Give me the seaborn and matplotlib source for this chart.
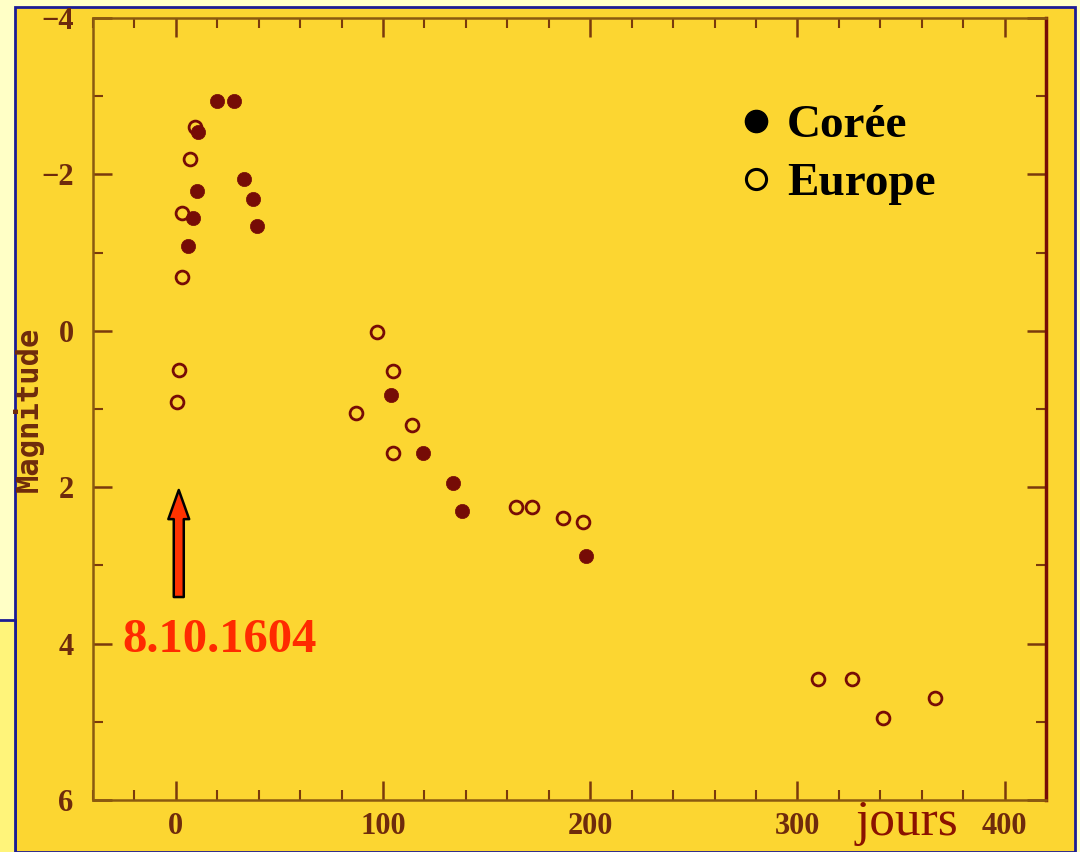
import numpy as np
import matplotlib
matplotlib.use("Agg")
import matplotlib.pyplot as plt
from matplotlib.patches import Rectangle
from matplotlib.lines import Line2D
from matplotlib.ticker import MultipleLocator
import seaborn as sns

# light curve of the 1604 supernova (days after 8.10.1604, magnitude)
coree_jours = [5.8, 8.2, 10.1, 10.6, 19.8, 28.0, 32.9, 37.2, 39.0, 104.0, 119.2, 134.0, 138.0, 197.9]
coree_mag = [-1.09, -1.44, -1.79, -2.54, -2.94, -2.94, -1.94, -1.69, -1.34, 0.82, 1.56, 1.95, 2.30, 2.88]

europe_jours = [0.5, 1.4, 2.9, 2.9, 6.8, 9.2, 87.0, 97.0, 105.0, 105.0, 114.2, 164.1, 171.8,
                187.1, 196.3, 310.0, 326.4, 341.2, 366.5]
europe_mag = [0.91, 0.50, -0.69, -1.50, -2.20, -2.60, 1.05, 0.01, 0.51, 1.56, 1.20, 2.25, 2.25,
              2.40, 2.45, 4.45, 4.45, 4.95, 4.70]

series_labels = ["Corée", "Europe"]
date_label = "8.10.1604"

GOLD = "#FCD631"
PALE = "#FFFFC6"
BLUE = "#1C1C94"
DARKRED = "#760C06"
BROWN = "#6E2B0C"
SERIF = ["Liberation Serif", "DejaVu Serif"]

sns.set_theme(style="ticks")
plt.rcParams["font.family"] = ["DejaVu Sans Mono", "DejaVu Sans"]

fig = plt.figure(figsize=(10.8, 8.52), dpi=100)
fig.patch.set_facecolor(PALE)
W, H = 1080, 852
# slide frame decorations
fig.patches.append(Rectangle((15 / W, 0), 1060 / W, (H - 7) / H, transform=fig.transFigure,
                             facecolor=GOLD, edgecolor=BLUE, lw=2, zorder=-10))
fig.patches.append(Rectangle((-0.01, -0.01), 0.01 + 15 / W, 0.01 + (H - 620) / H,
                             transform=fig.transFigure, facecolor="#FFF47A", edgecolor=BLUE,
                             lw=2, zorder=-10))

ax = fig.add_axes([93 / W, (H - 800) / H, (1046 - 93) / W, (800 - 18) / H])
ax.set_facecolor(GOLD)

sns.scatterplot(x=europe_jours, y=europe_mag, ax=ax, marker="o", s=85,
                facecolor=GOLD, edgecolor=DARKRED, linewidth=2.0, zorder=3)
sns.scatterplot(x=coree_jours, y=coree_mag, ax=ax, marker="o", s=105,
                color=DARKRED, edgecolor=DARKRED, linewidth=0.5, zorder=4)

ax.set_xlim(-40, 420)
ax.set_ylim(6, -4)
ax.xaxis.set_major_locator(MultipleLocator(100))
ax.xaxis.set_minor_locator(MultipleLocator(20))
ax.yaxis.set_major_locator(MultipleLocator(2))
ax.yaxis.set_minor_locator(MultipleLocator(1))
ax.tick_params(which="both", direction="in", top=True, right=True, colors="#7A3A0C",
               labelcolor=BROWN)
ax.tick_params(which="major", length=14, width=1.8)
ax.tick_params(which="minor", length=7, width=1.5)
ax.tick_params(axis="x", pad=9)
ax.tick_params(axis="y", pad=14)
ax.set_yticks([-4, -2, 0, 2, 4, 6])
ax.set_yticklabels(["\u22124", "\u22122", "0", "2", "4", "6"])
for lab in ax.get_xticklabels() + ax.get_yticklabels():
    lab.set_fontweight("bold")
    lab.set_family(SERIF)
    lab.set_fontsize(22)

for side in ["left", "top", "bottom"]:
    ax.spines[side].set_color("#8A5A10")
    ax.spines[side].set_linewidth(1.8)
ax.spines["right"].set_color(DARKRED)
ax.spines["right"].set_linewidth(2.5)

ax.set_ylabel("Magnitude", color=BROWN, fontsize=22, fontweight="bold")
ax.yaxis.set_label_coords(-0.052, 0.5)

# arrow marking the discovery date
ax.annotate("", xy=(1.4, 2.0), xytext=(1.4, 3.44),
            arrowprops=dict(arrowstyle="simple,head_width=0.75,head_length=1.05,tail_width=0.36",
                            mutation_scale=20, fc="#FF3300", ec="black", lw=1.8))
ax.text(-26, 3.95, date_label, color="#FF2A00", fontsize=35, fontweight="bold",
        family=SERIF, ha="left", va="center")
ax.annotate("jours", xy=(353, -0.045), xycoords=("data", "axes fraction"),
            color="#8B1200", fontsize=37, family=SERIF,
            ha="center", va="baseline", annotation_clip=False)

handles = [Line2D([], [], ls="", marker="o", ms=16, mfc="black", mec="black"),
           Line2D([], [], ls="", marker="o", ms=14.5, mfc=GOLD, mec="black", mew=2.2)]
ax.legend(handles, series_labels, loc="upper left", bbox_to_anchor=(0.681, 0.89),
          frameon=False, borderpad=0, borderaxespad=0, handlelength=0.6, handletextpad=0.35,
          labelspacing=0.32, labelcolor="black",
          prop=dict(family=SERIF, weight="bold", size=34))

fig.savefig("out.png", dpi=100, facecolor=fig.get_facecolor())
